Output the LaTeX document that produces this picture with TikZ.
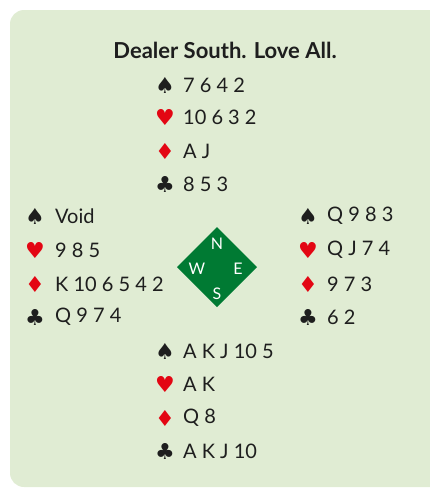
\documentclass[tikz,border=0pt]{standalone}
\usepackage{fontspec}
\setmainfont{Lato}
\newfontfamily\suitfont{DejaVu Sans}
\definecolor{bg}{HTML}{E0ECD3}
\definecolor{dgreen}{HTML}{007A33}
\definecolor{sred}{HTML}{E30613}
\definecolor{ink}{HTML}{1E1E1E}
\tikzset{
  suit/.style={anchor=center, font=\suitfont\fontsize{22}{22}\selectfont, inner sep=0pt},
  cards/.style={anchor=west, font=\fontsize{20}{20}\selectfont, text=ink, inner sep=0pt},
  compass/.style={font=\fontsize{16}{16}\selectfont, text=white, inner sep=0pt}
}
\begin{document}
\begin{tikzpicture}[x=1pt,y=-1pt]
\useasboundingbox (0,0) rectangle (430,488);
\fill[bg, rounded corners=14pt] (10,10) rectangle (460,487);
\node[font=\bfseries\fontsize{22}{22}\selectfont, text=ink, inner sep=0pt] (title) at (225,50) {Dealer South. Love All.};
% North
\node[suit, text=ink] (ns) at (165,85) {♠}; \node[cards] (nst) at (183,85) {7 6 4 2};
\node[suit, text=sred] (nh) at (165,117) {♥}; \node[cards] (nht) at (183,117) {10 6 3 2};
\node[suit, text=sred] (nd) at (165,151) {♦}; \node[cards] (ndt) at (183,151) {A J};
\node[suit, text=ink] (nc) at (165,184) {♣}; \node[cards] (nct) at (183,184) {8 5 3};
% West
\node[suit, text=ink] (ws) at (35,216) {♠}; \node[cards] (wst) at (55,216) {Void};
\node[suit, text=sred] (wh) at (35,250) {♥}; \node[cards] (wht) at (55,250) {9 8 5};
\node[suit, text=sred] (wd) at (35,284) {♦}; \node[cards] (wdt) at (55,284) {K 10 6 5 4 2};
\node[suit, text=ink] (wc) at (35,317) {♣}; \node[cards] (wct) at (55,317) {Q 9 7 4};
% East
\node[suit, text=ink] (es) at (308,216) {♠}; \node[cards] (est) at (327,216) {Q 9 8 3};
\node[suit, text=sred] (eh) at (308,250) {♥}; \node[cards] (eht) at (327,250) {Q J 7 4};
\node[suit, text=sred] (ed) at (308,284) {♦}; \node[cards] (edt) at (327,284) {9 7 3};
\node[suit, text=ink] (ec) at (308,317) {♣}; \node[cards] (ect) at (327,317) {6 2};
% South
\node[suit, text=ink] (ss) at (165,351) {♠}; \node[cards] (sst) at (183,351) {A K J 10 5};
\node[suit, text=sred] (sh) at (165,384) {♥}; \node[cards] (sht) at (183,384) {A K};
\node[suit, text=sred] (sd) at (165,418) {♦}; \node[cards] (sdt) at (183,418) {Q 8};
\node[suit, text=ink] (sc) at (165,451) {♣}; \node[cards] (sct) at (183,451) {A K J 10};
% compass
\fill[dgreen] (217,227) -- (257,267) -- (217,307) -- (177,267) -- cycle;
\node[compass] (cn) at (217,244) {N};
\node[compass] (cs) at (217,294) {S};
\node[compass] (cw) at (197,269) {W};
\node[compass] (ce) at (238,269) {E};
\end{tikzpicture}
\end{document}
